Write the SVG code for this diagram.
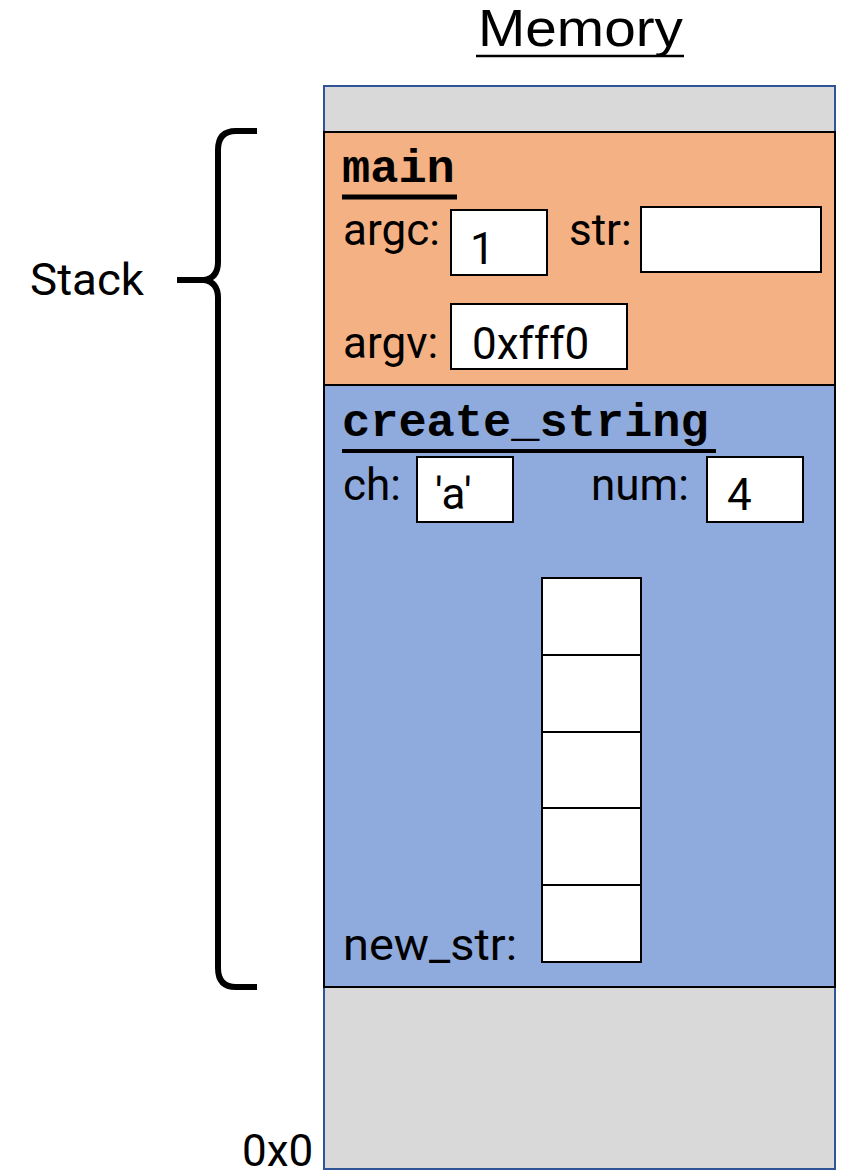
<svg xmlns="http://www.w3.org/2000/svg" width="849" height="1176" viewBox="0 0 849 1176">
<style>
.lbl{font-family:Roboto,"Liberation Sans",sans-serif;font-size:44px;fill:#000}
.mono{font-family:"Liberation Mono","Courier New",monospace;font-weight:bold;font-size:47px;fill:#000}
.box{fill:#fff;stroke:#000;stroke-width:2}
.frame{stroke:#000;stroke-width:2}
</style>
<rect width="849" height="1176" fill="#fff"/>
<g id="title">
<text x="478" y="46" font-family="'Liberation Sans',Arial,sans-serif" font-size="52" textLength="205" lengthAdjust="spacingAndGlyphs">Memory</text>
<line x1="476" y1="56" x2="684" y2="56" stroke="#000" stroke-width="2.5"/>
</g>
<g id="memory">
<rect x="324" y="86" width="511" height="1083" fill="#D9D9D9" stroke="#2F5597" stroke-width="2"/>
</g>
<g id="main">
<rect class="frame" x="324" y="132" width="511" height="253" fill="#F4B183"/>
<text class="mono" x="342" y="182">main</text>
<line x1="342" y1="197" x2="457" y2="197" stroke="#000" stroke-width="5"/>
<text class="lbl" x="343" y="245">argc:</text>
<rect class="box" x="451" y="210" width="96" height="65"/>
<text class="lbl" x="470" y="264">1</text>
<text class="lbl" x="569" y="245">str:</text>
<rect class="box" x="641" y="207" width="180" height="65"/>
<text class="lbl" x="343" y="358">argv:</text>
<rect class="box" x="451" y="304" width="176" height="65"/>
<text class="lbl" x="472" y="359">0xfff0</text>
</g>
<g id="create_string">
<rect class="frame" x="324" y="385" width="511" height="602" fill="#8FAADC"/>
<text class="mono" x="342" y="436">create_string</text>
<line x1="342" y1="451" x2="716" y2="451" stroke="#000" stroke-width="4"/>
<text class="lbl" x="343" y="500">ch:</text>
<rect class="box" x="417" y="457" width="96" height="65"/>
<text class="lbl" x="435" y="509">'a'</text>
<text class="lbl" x="591" y="500">num:</text>
<rect class="box" x="707" y="457" width="96" height="65"/>
<text class="lbl" x="727" y="510">4</text>
<rect class="box" x="542" y="578" width="99" height="77"/>
<rect class="box" x="542" y="655" width="99" height="77"/>
<rect class="box" x="542" y="732" width="99" height="76"/>
<rect class="box" x="542" y="808" width="99" height="77"/>
<rect class="box" x="542" y="885" width="99" height="77"/>
<text class="lbl" x="343" y="960" textLength="174" lengthAdjust="spacingAndGlyphs">new_str:</text>
</g>
<g id="addr">
<text class="lbl" x="242" y="1166">0x0</text>
</g>
<g id="stack">
<text class="lbl" x="30" y="295" font-size="45" textLength="114" lengthAdjust="spacingAndGlyphs">Stack</text>
<path d="M257,131 H236 Q218,131 218,150 V262 Q218,278 204,280 H177 M204,280 Q218,282 218,298 V968 Q218,987 236,987 H257" fill="none" stroke="#000" stroke-width="6"/>
</g>
</svg>
